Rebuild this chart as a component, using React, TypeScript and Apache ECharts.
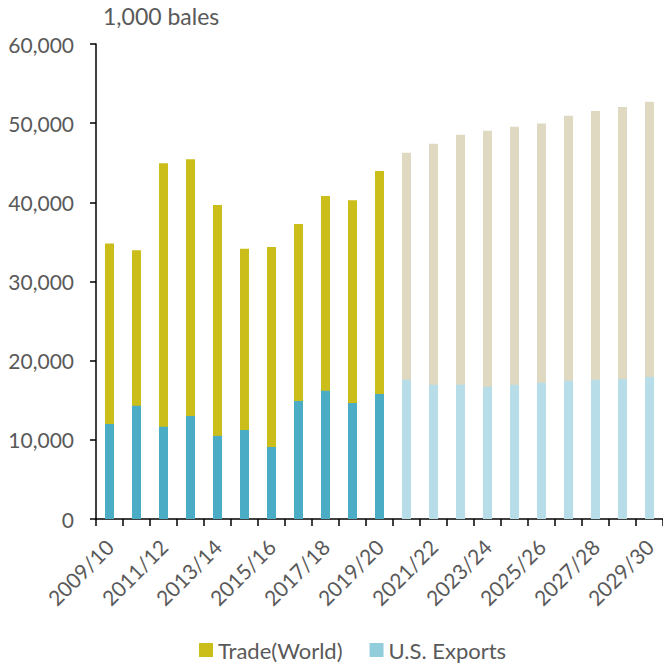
import React, { useEffect, useRef } from "react";
import * as echarts from "echarts";

const categories = [
  "2009/10", "2010/11", "2011/12", "2012/13", "2013/14", "2014/15", "2015/16",
  "2016/17", "2017/18", "2018/19", "2019/20", "2020/21", "2021/22", "2022/23",
  "2023/24", "2024/25", "2025/26", "2026/27", "2027/28", "2028/29", "2029/30",
];
const tradeWorld = [
  34800, 33950, 44950, 45450, 39650, 34150, 34350, 37250, 40800, 40250, 43950,
  46250, 47400, 48550, 49050, 49550, 49950, 50950, 51550, 52050, 52700,
];
const usExports = [
  12000, 14300, 11650, 13000, 10500, 11250, 9100, 14900, 16200, 14650, 15800,
  17600, 16950, 16950, 16700, 16950, 17200, 17450, 17600, 17700, 17950,
];
const projectedFrom = 11;
const yTicks = [0, 10000, 20000, 30000, 40000, 50000, 60000];

const TRADE = "#CBBE1B";
const TRADE_P = "#DFD9C2";
const EXP = "#4BACC6";
const EXP_P = "#B7DDE8";
const TXT = "#595959";
const FONT = "Lato";

export default function App() {
  const ref = useRef<HTMLDivElement>(null);
  useEffect(() => {
    if (!ref.current) return;
    const chart = echarts.init(ref.current, null, { renderer: "svg" });
    chart.setOption({
      animation: false,
      textStyle: { fontFamily: FONT },
      graphic: [
        {
          type: "text",
          left: 103,
          top: 4,
          style: { text: "1,000 bales", fontSize: 23, fill: TXT, fontFamily: FONT },
        },
      ],
      legend: {
        top: 639,
        left: 199,
        padding: 0,
        itemWidth: 14,
        itemHeight: 14,
        itemGap: 27,
        icon: "rect",
        textStyle: { fontSize: 22, lineHeight: 22, color: TXT, fontFamily: FONT },
        data: [
          { name: "Trade(World)", itemStyle: { color: TRADE } },
          { name: "U.S. Exports", itemStyle: { color: "#92CDDC" } },
        ],
      },
      grid: { left: 96, right: -3, top: 44, bottom: 145 },
      xAxis: {
        type: "category",
        data: categories,
        boundaryGap: true,
        axisLine: { show: true, lineStyle: { color: "#000", width: 1.5 } },
        axisTick: { show: true, interval: 0, length: 7, lineStyle: { color: "#000", width: 1.5 } },
        axisLabel: {
          interval: 1,
          rotate: 45,
          fontSize: 21,
          color: TXT,
          fontFamily: FONT,
          margin: 24,
        },
      },
      yAxis: {
        type: "value",
        min: yTicks[0],
        max: yTicks[yTicks.length - 1],
        interval: 10000,
        axisLine: { show: true, lineStyle: { color: "#000", width: 1.5 } },
        axisTick: { show: true, length: 6, lineStyle: { color: "#000", width: 1.5 } },
        splitLine: { show: false },
        axisLabel: {
          fontSize: 21,
          color: TXT,
          fontFamily: FONT,
          margin: 22,
          formatter: (v: number) => v.toLocaleString("en-US"),
        },
      },
      series: [
        {
          name: "Trade(World)",
          type: "bar",
          barWidth: 9,
          barGap: "-100%",
          itemStyle: { color: TRADE },
          data: tradeWorld.map((v, i) => ({
            value: v,
            itemStyle: { color: i >= projectedFrom ? TRADE_P : TRADE },
          })),
        },
        {
          name: "U.S. Exports",
          type: "bar",
          barWidth: 9,
          barGap: "-100%",
          itemStyle: { color: "#92CDDC" },
          data: usExports.map((v, i) => ({
            value: v,
            itemStyle: { color: i >= projectedFrom ? EXP_P : EXP },
          })),
        },
      ],
    });
    return () => chart.dispose();
  }, []);
  return <div ref={ref} style={{ width: 663, height: 664, position: "absolute", left: 0, top: 0 }} />;
}
